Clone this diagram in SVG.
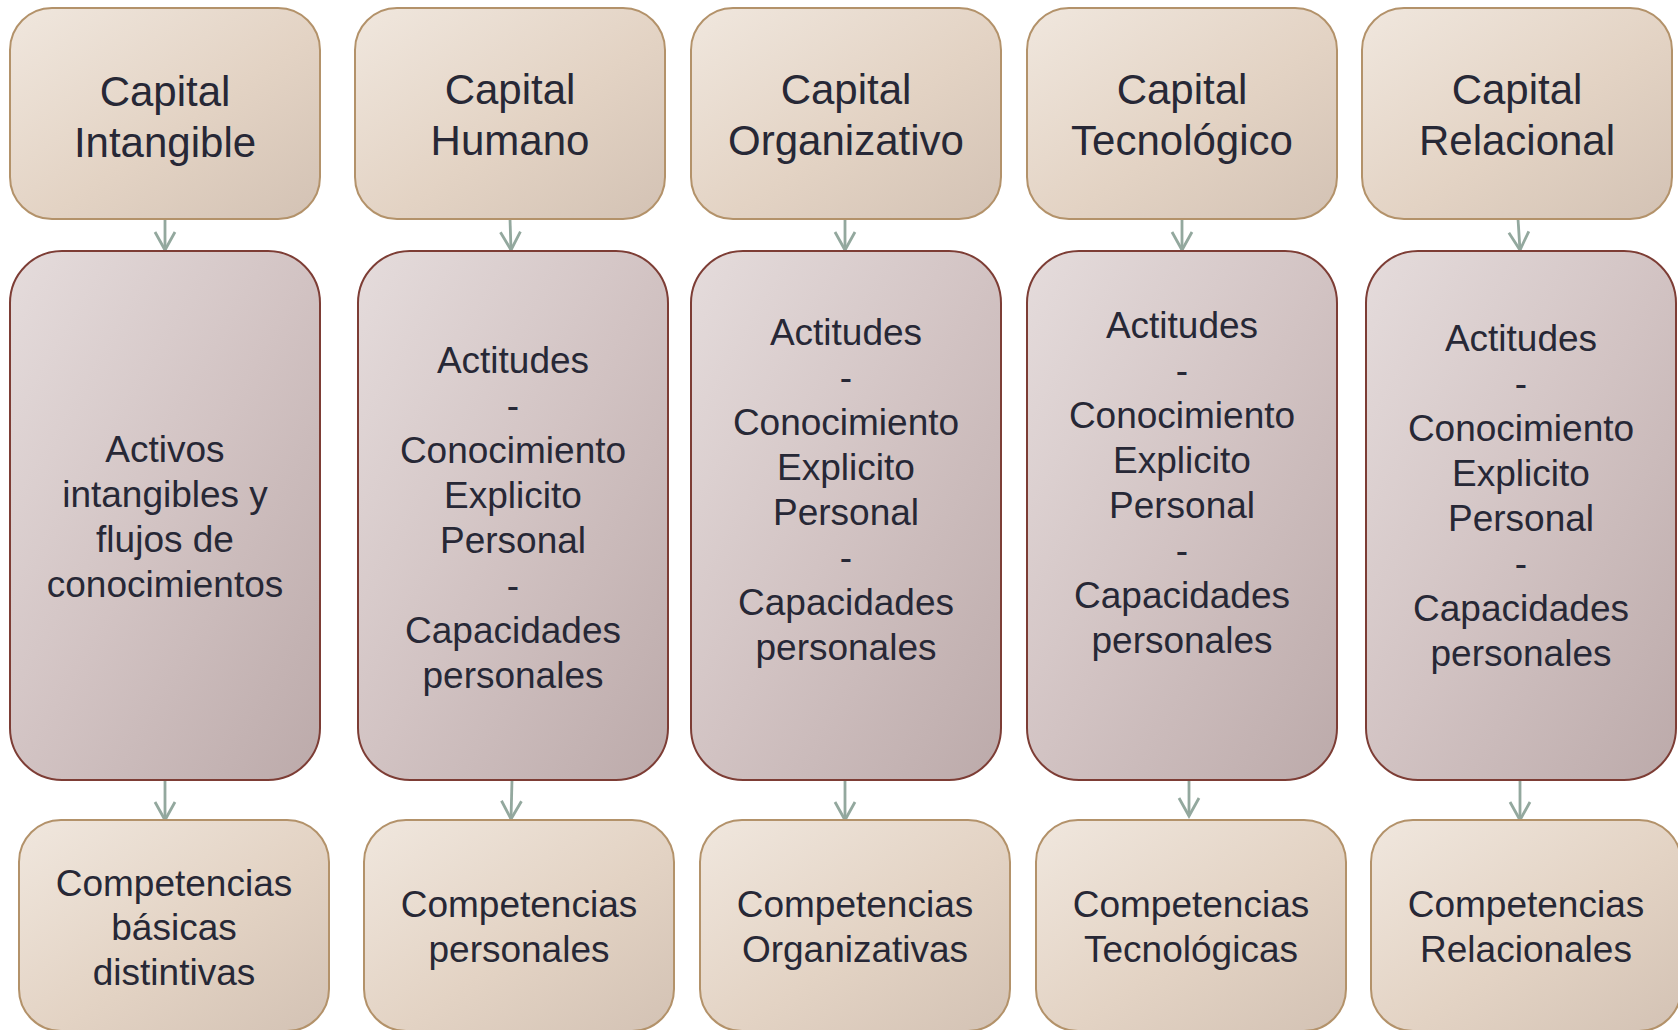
<svg xmlns="http://www.w3.org/2000/svg" width="1678" height="1030" viewBox="0 0 1678 1030">
<defs>
<linearGradient id="gTan" x1="0" y1="0" x2="1" y2="1">
<stop offset="0" stop-color="#f0e7de"/>
<stop offset="0.55" stop-color="#e3d3c4"/>
<stop offset="1" stop-color="#d3c2b4"/>
</linearGradient>
<linearGradient id="gMauve" x1="0" y1="0" x2="1" y2="1">
<stop offset="0" stop-color="#e5dcdc"/>
<stop offset="0.5" stop-color="#d2c3c3"/>
<stop offset="1" stop-color="#bcaaaa"/>
</linearGradient>
<marker id="arr" markerUnits="userSpaceOnUse" markerWidth="40" markerHeight="40" viewBox="-20 -20 40 40" refX="0" refY="0" orient="auto" overflow="visible">
<path d="M-18,-10 L0,0 L-18,10" fill="none" stroke="#93a89e" stroke-width="2.8" stroke-linejoin="miter"/>
</marker>
</defs>
<style>
.tan{fill:url(#gTan);stroke:#b3926a;stroke-width:2}
.mauve{fill:url(#gMauve);stroke:#7d3d35;stroke-width:2}
text{font-family:"Liberation Sans",Arial,sans-serif;fill:#272836;text-anchor:middle}
.t1{font-size:42px}
.t2{font-size:37px}
.con{stroke:#93a89e;stroke-width:2.8;fill:none;marker-end:url(#arr)}
</style>
<rect width="1678" height="1030" fill="#ffffff"/>

<g id="connectors">
<line class="con" x1="165" y1="219" x2="165" y2="250"/>
<line class="con" x1="510" y1="219" x2="511" y2="250"/>
<line class="con" x1="845" y1="219" x2="845" y2="250"/>
<line class="con" x1="1182" y1="219" x2="1182" y2="250"/>
<line class="con" x1="1518" y1="219" x2="1520" y2="250"/>
<line class="con" x1="165" y1="780" x2="165" y2="820"/>
<line class="con" x1="512" y1="780" x2="511" y2="819"/>
<line class="con" x1="845" y1="780" x2="845" y2="820"/>
<line class="con" x1="1189" y1="775" x2="1189" y2="816"/>
<line class="con" x1="1520" y1="780" x2="1520" y2="820"/>
</g>

<g id="capital-intangible">
<rect class="tan" x="10" y="8" width="310" height="211" rx="42"/>
<text class="t1" x="165" y="106">Capital</text>
<text class="t1" x="165" y="157">Intangible</text>
</g>
<g id="capital-humano">
<rect class="tan" x="355" y="8" width="310" height="211" rx="42"/>
<text class="t1" x="510" y="104">Capital</text>
<text class="t1" x="510" y="155">Humano</text>
</g>
<g id="capital-organizativo">
<rect class="tan" x="691" y="8" width="310" height="211" rx="42"/>
<text class="t1" x="846" y="104">Capital</text>
<text class="t1" x="846" y="155">Organizativo</text>
</g>
<g id="capital-tecnologico">
<rect class="tan" x="1027" y="8" width="310" height="211" rx="42"/>
<text class="t1" x="1182" y="104">Capital</text>
<text class="t1" x="1182" y="155">Tecnológico</text>
</g>
<g id="capital-relacional">
<rect class="tan" x="1362" y="8" width="310" height="211" rx="42"/>
<text class="t1" x="1517" y="104">Capital</text>
<text class="t1" x="1517" y="155">Relacional</text>
</g>

<g id="activos">
<rect class="mauve" x="10" y="251" width="310" height="529" rx="52"/>
<text class="t2" x="165" y="462">Activos</text>
<text class="t2" x="165" y="507">intangibles y</text>
<text class="t2" x="165" y="552">flujos de</text>
<text class="t2" x="165" y="597">conocimientos</text>
</g>
<g id="humano-detalle">
<rect class="mauve" x="358" y="251" width="310" height="529" rx="52"/>
<text class="t2" x="513" y="373">Actitudes</text>
<text class="t2" x="513" y="418">-</text>
<text class="t2" x="513" y="463">Conocimiento</text>
<text class="t2" x="513" y="508">Explicito</text>
<text class="t2" x="513" y="553">Personal</text>
<text class="t2" x="513" y="598">-</text>
<text class="t2" x="513" y="643">Capacidades</text>
<text class="t2" x="513" y="688">personales</text>
</g>
<g id="organizativo-detalle">
<rect class="mauve" x="691" y="251" width="310" height="529" rx="52"/>
<text class="t2" x="846" y="345">Actitudes</text>
<text class="t2" x="846" y="390">-</text>
<text class="t2" x="846" y="435">Conocimiento</text>
<text class="t2" x="846" y="480">Explicito</text>
<text class="t2" x="846" y="525">Personal</text>
<text class="t2" x="846" y="570">-</text>
<text class="t2" x="846" y="615">Capacidades</text>
<text class="t2" x="846" y="660">personales</text>
</g>
<g id="tecnologico-detalle">
<rect class="mauve" x="1027" y="251" width="310" height="529" rx="52"/>
<text class="t2" x="1182" y="338">Actitudes</text>
<text class="t2" x="1182" y="383">-</text>
<text class="t2" x="1182" y="428">Conocimiento</text>
<text class="t2" x="1182" y="473">Explicito</text>
<text class="t2" x="1182" y="518">Personal</text>
<text class="t2" x="1182" y="563">-</text>
<text class="t2" x="1182" y="608">Capacidades</text>
<text class="t2" x="1182" y="653">personales</text>
</g>
<g id="relacional-detalle">
<rect class="mauve" x="1366" y="251" width="310" height="529" rx="52"/>
<text class="t2" x="1521" y="351">Actitudes</text>
<text class="t2" x="1521" y="396">-</text>
<text class="t2" x="1521" y="441">Conocimiento</text>
<text class="t2" x="1521" y="486">Explicito</text>
<text class="t2" x="1521" y="531">Personal</text>
<text class="t2" x="1521" y="576">-</text>
<text class="t2" x="1521" y="621">Capacidades</text>
<text class="t2" x="1521" y="666">personales</text>
</g>

<g id="competencias-basicas">
<rect class="tan" x="19" y="820" width="310" height="211" rx="42"/>
<text class="t2" x="174" y="896">Competencias</text>
<text class="t2" x="174" y="940">básicas</text>
<text class="t2" x="174" y="985">distintivas</text>
</g>
<g id="competencias-personales">
<rect class="tan" x="364" y="820" width="310" height="211" rx="42"/>
<text class="t2" x="519" y="917">Competencias</text>
<text class="t2" x="519" y="962">personales</text>
</g>
<g id="competencias-organizativas">
<rect class="tan" x="700" y="820" width="310" height="211" rx="42"/>
<text class="t2" x="855" y="917">Competencias</text>
<text class="t2" x="855" y="962">Organizativas</text>
</g>
<g id="competencias-tecnologicas">
<rect class="tan" x="1036" y="820" width="310" height="211" rx="42"/>
<text class="t2" x="1191" y="917">Competencias</text>
<text class="t2" x="1191" y="962">Tecnológicas</text>
</g>
<g id="competencias-relacionales">
<rect class="tan" x="1371" y="820" width="310" height="211" rx="42"/>
<text class="t2" x="1526" y="917">Competencias</text>
<text class="t2" x="1526" y="962">Relacionales</text>
</g>
</svg>
